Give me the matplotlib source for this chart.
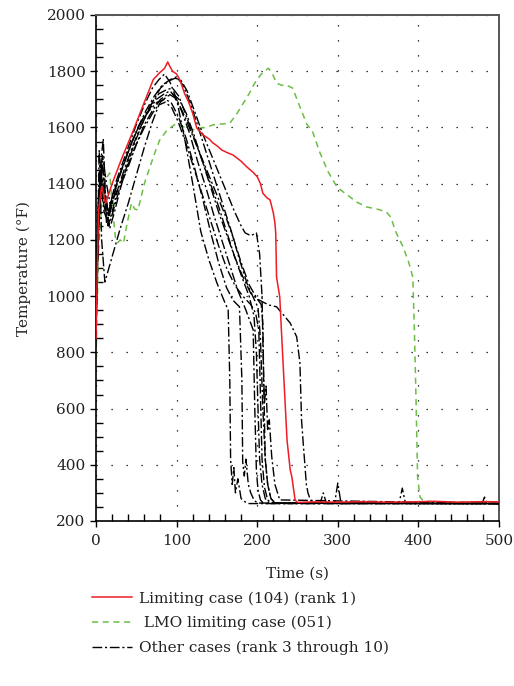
import matplotlib
matplotlib.use("Agg")
import matplotlib.pyplot as plt
from matplotlib.lines import Line2D

# ---------------- data ----------------
red_t = [0, 3, 7, 12, 20, 32, 45, 60, 71, 79, 85, 89, 92, 95, 100, 104, 110, 115, 120, 125, 133, 140, 145,
         150, 156, 163, 170, 180, 187, 195, 200, 204, 207, 212, 216, 220, 222, 223, 224, 228, 230, 233, 237,
         241, 243, 247, 250, 270, 300, 330, 360, 390, 420, 450, 480, 500]
red_T = [850, 1300, 1390, 1330, 1400, 1490, 1580, 1690, 1770, 1795, 1810, 1833, 1815, 1800, 1790, 1770,
         1720, 1690, 1650, 1598, 1573, 1560, 1545, 1535, 1520, 1510, 1502, 1480, 1460, 1440, 1425, 1400,
         1366, 1350, 1342, 1296, 1260, 1224, 1068, 997, 880, 712, 488, 381, 357, 275, 266, 268, 267, 269,
         267, 268, 270, 267, 269, 268]

green_t = [0, 3, 8, 13, 17, 20, 24, 27, 30, 34, 38, 44, 48, 52, 60, 67, 73, 79, 88, 100, 110, 117, 129,
           137, 145, 155, 166, 175, 183, 190, 197, 205, 214, 219, 224, 230, 236, 244, 253, 262, 268, 278,
           288, 294, 299, 307, 315, 323, 336, 348, 360, 366, 371, 375, 381, 388, 393, 395, 397, 399, 402,
           406, 420, 450, 480, 500]
green_T = [780, 1150, 1380, 1420, 1438, 1330, 1210, 1190, 1200, 1188, 1250, 1331, 1310, 1306, 1400,
           1460, 1510, 1555, 1590, 1615, 1600, 1590, 1598, 1600, 1609, 1612, 1615, 1650, 1687, 1720,
           1758, 1790, 1811, 1790, 1758, 1750, 1751, 1740, 1673, 1609, 1591, 1509, 1442, 1413, 1388,
           1370, 1353, 1335, 1317, 1310, 1300, 1280, 1235, 1210, 1175, 1120, 1068, 880, 641, 357, 285,
           272, 268, 268, 268, 268]

k1_t = [0, 2, 5, 9, 13, 18, 24, 30, 40, 50, 60, 70, 78, 85, 92, 100, 110, 120, 130, 140, 150, 158, 164,
        166, 167, 169, 171, 173, 176, 180, 185, 190, 278, 282, 286, 500]
k1_T = [900, 1250, 1450, 1560, 1260, 1330, 1400, 1450, 1530, 1610, 1680, 1740, 1770, 1790, 1760, 1700,
        1560, 1400, 1230, 1130, 1047, 990, 950, 700, 420, 330, 390, 300, 350, 280, 268, 262, 262, 300,
        262, 262]

k2_t = [0, 3, 6, 10, 14, 20, 28, 36, 46, 56, 66, 76, 85, 93, 102, 112, 122, 132, 142, 152, 162, 170,
        178, 181, 182, 184, 186, 189, 192, 196, 200, 296, 300, 304, 500]
k2_T = [1000, 1350, 1400, 1300, 1270, 1330, 1420, 1480, 1560, 1620, 1660, 1690, 1700, 1690, 1640, 1560,
        1460, 1350, 1230, 1120, 1030, 985, 962, 700, 410, 360, 420, 330, 300, 275, 264, 262, 335, 262,
        262]

k3_t = [0, 4, 8, 12, 16, 22, 30, 40, 50, 60, 70, 80, 90, 98, 106, 116, 126, 136, 146, 156, 166, 176,
        186, 195, 197, 199, 201, 204, 208, 376, 380, 384, 500]
k3_T = [950, 1300, 1420, 1350, 1280, 1350, 1400, 1470, 1540, 1610, 1660, 1700, 1720, 1705, 1660, 1580,
        1480, 1390, 1290, 1200, 1110, 1020, 950, 880, 600, 380, 310, 275, 262, 262, 317, 262, 262]

k4_t = [0, 3, 7, 11, 15, 21, 29, 38, 48, 58, 68, 78, 88, 95, 103, 112, 122, 132, 142, 152, 162, 172,
        182, 190, 196, 199, 201, 203, 206, 210, 215, 479, 482, 485, 500]
k4_T = [880, 1200, 1480, 1380, 1300, 1360, 1430, 1500, 1570, 1630, 1680, 1720, 1735, 1740, 1710, 1640,
        1560, 1480, 1400, 1320, 1230, 1140, 1060, 1000, 930, 800, 600, 420, 330, 280, 264, 262, 285,
        262, 262]

k5_t = [0, 4, 8, 13, 18, 24, 32, 42, 52, 62, 72, 82, 92, 100, 108, 118, 128, 138, 148, 158, 168, 178,
        188, 196, 201, 204, 207, 210, 213, 217, 222, 500]
k5_T = [1050, 1380, 1500, 1400, 1320, 1380, 1450, 1530, 1600, 1660, 1710, 1750, 1770, 1780, 1750,
        1680, 1590, 1500, 1410, 1320, 1230, 1130, 1040, 990, 960, 850, 600, 420, 330, 280, 264, 262]

k6_t = [0, 3, 6, 10, 15, 20, 27, 35, 45, 55, 65, 75, 85, 92, 100, 110, 120, 130, 140, 150, 160, 170,
        180, 190, 200, 205, 207, 208, 209, 211, 213, 215, 218, 222, 228, 500]
k6_T = [900, 1300, 1450, 1350, 1250, 1300, 1380, 1450, 1530, 1600, 1660, 1700, 1720, 1730, 1700, 1640,
        1570, 1500, 1430, 1360, 1290, 1210, 1120, 1040, 990, 970, 900, 720, 620, 680, 520, 560, 430,
        330, 275, 262]

k7_t = [0, 4, 8, 12, 17, 23, 30, 40, 50, 60, 70, 80, 90, 98, 105, 113, 122, 132, 142, 152, 162, 172,
        180, 185, 192, 199, 203, 206, 208, 210, 213, 217, 222, 500]
k7_T = [1000, 1350, 1480, 1330, 1240, 1300, 1380, 1480, 1560, 1630, 1690, 1740, 1765, 1775, 1770, 1730,
        1660, 1580, 1510, 1440, 1370, 1300, 1250, 1225, 1215, 1225, 1150, 1000, 700, 420, 330, 280,
        264, 262]

k8_t = [0, 3, 6, 10, 16, 22, 30, 40, 50, 60, 70, 80, 88, 95, 103, 112, 122, 132, 142, 152, 162, 172,
        182, 192, 200, 207, 215, 224, 232, 241, 249, 253, 255, 257, 259, 261, 263, 266, 270, 500]
k8_T = [950, 1280, 1420, 1320, 1250, 1310, 1390, 1460, 1540, 1600, 1650, 1690, 1710, 1720, 1700, 1650,
        1570, 1480, 1390, 1300, 1220, 1140, 1070, 1010, 990, 979, 968, 962, 935, 904, 855, 762, 560,
        480, 406, 330, 300, 275, 264, 262]

k9_t = [0, 2, 4, 7, 11, 16, 22, 30, 40, 50, 60, 70, 78, 86, 94, 102, 112, 122, 132, 142, 152, 162, 172,
        182, 192, 198, 202, 204, 206, 209, 213, 218, 500]
k9_T = [850, 1200, 1520, 1200, 1050, 1100, 1160, 1240, 1330, 1430, 1530, 1620, 1680, 1690, 1670, 1620,
        1540, 1450, 1360, 1270, 1180, 1100, 1040, 1000, 970, 940, 880, 650, 420, 320, 275, 263, 262]

black_series = [(k1_t, k1_T), (k2_t, k2_T), (k3_t, k3_T), (k4_t, k4_T), (k5_t, k5_T),
                (k6_t, k6_T), (k7_t, k7_T), (k8_t, k8_T), (k9_t, k9_T)]

x_ticks = [0, 100, 200, 300, 400, 500]
y_ticks = [200, 400, 600, 800, 1000, 1200, 1400, 1600, 1800, 2000]
legend_labels = ["Limiting case (104) (rank 1)", " LMO limiting case (051)",
                 "Other cases (rank 3 through 10)"]

# ---------------- style ----------------
RED = "#ee1c24"
GREEN = "#6cbd45"
plt.rcParams["font.family"] = ["DejaVu Serif"]
plt.rcParams["font.size"] = 11

fig = plt.figure(figsize=(5.14, 6.86), dpi=100)
ax = fig.add_axes([96 / 514, 1 - 521 / 686, (499 - 96) / 514, (521 - 15) / 686])

dashdot = (0, (7, 2, 1.5, 2))
for t, T in black_series:
    ax.plot(t, T, color="black", lw=1.0, linestyle=dashdot, zorder=3)
ax.plot(green_t, green_T, color=GREEN, lw=1.1, linestyle=(0, (4, 3)), zorder=2)
ax.plot(red_t, red_T, color=RED, lw=1.1, zorder=4)

ax.set_xlim(0, 500)
ax.set_ylim(200, 2000)
ax.set_xticks(x_ticks)
ax.set_yticks(y_ticks)
ax.set_xticks(range(0, 501, 20), minor=True)
ax.set_yticks(range(200, 2001, 50), minor=True)
ax.tick_params(which="major", direction="out", length=4.5, width=1.0, colors="black",
               labelcolor="#222222", pad=3)
ax.tick_params(axis="x", which="major", pad=5)
ax.tick_params(which="minor", direction="in", length=5, width=1.0, colors="black")
ax.tick_params(top=False, right=False, which="both")

ax.grid(True, which="major", color="black", lw=0.9, linestyle=(0, (1, 11)))
for s in ["left", "bottom"]:
    ax.spines[s].set_color("black")
    ax.spines[s].set_linewidth(1.2)
for s in ["top", "right"]:
    ax.spines[s].set_color("#555555")
    ax.spines[s].set_linewidth(1.4)

ax.set_xlabel("Time (s)", color="#222222", labelpad=13)
ax.set_ylabel("Temperature (°F)", color="#222222", labelpad=11)

handles = [Line2D([], [], color=RED, lw=1.1),
           Line2D([], [], color=GREEN, lw=1.1, linestyle=(0, (4, 3))),
           Line2D([], [], color="black", lw=1.0, linestyle=dashdot)]
fig.legend(handles, legend_labels, loc="upper left", bbox_to_anchor=(86 / 514, 1 - 585 / 686),
           frameon=False, handlelength=2.6, handletextpad=0.5, labelspacing=0.68,
           labelcolor="#222222", borderaxespad=0)

fig.savefig("out.png", dpi=100)
